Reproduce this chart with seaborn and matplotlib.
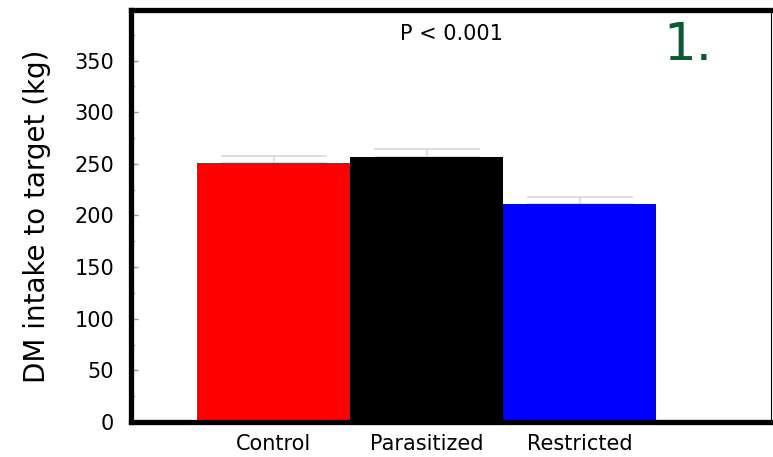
import matplotlib
matplotlib.use("Agg")
import matplotlib.pyplot as plt
from matplotlib.ticker import MultipleLocator
import seaborn as sns
import pandas as pd

groups = ["Control", "Parasitized", "Restricted"]
intake = [251, 257, 211]
sem = [7, 7, 7]
bar_colors = ["#ff0000", "#000000", "#0000ff"]

sns.set_theme(style="white")
plt.rcParams["font.family"] = ["DejaVu Sans"]
plt.rcParams["text.color"] = "black"
plt.rcParams["axes.labelcolor"] = "black"
plt.rcParams["xtick.color"] = "black"
plt.rcParams["ytick.color"] = "black"

df = pd.DataFrame({"group": groups, "intake": intake})

fig = plt.figure(figsize=(7.73, 4.57), dpi=100)
ax = fig.add_axes([0.1695, 0.0766, 0.828, 0.9015])

sns.barplot(data=df, x="group", y="intake", hue="group", palette=bar_colors,
            width=1.0, errorbar=None, legend=False, ax=ax, linewidth=0,
            saturation=1, zorder=2)

# upward-only error bars
ax.errorbar(range(len(groups)), intake, yerr=[[0] * len(groups), sem],
            fmt="none", ecolor="#d8d8d8", elinewidth=1.2, capsize=38,
            capthick=1.2, zorder=1)

ax.set_xlim(-0.931, 3.25)
ax.set_ylim(0, 399)
ax.set_yticks(range(0, 400, 50))
ax.yaxis.set_minor_locator(MultipleLocator(25))
ax.tick_params(axis="y", which="major", direction="in", length=5, width=1,
               color="#999999", labelcolor="black", labelsize=15, pad=12,
               left=True)
ax.tick_params(axis="y", which="minor", direction="in", length=3, width=1,
               color="#bbbbbb", left=True)
ax.tick_params(axis="x", length=0, labelsize=15, labelcolor="black", pad=9)

ax.set_xlabel("")
ax.set_ylabel("DM intake to target (kg)", fontsize=20, labelpad=17,
              color="black")

for side in ["left", "top", "bottom"]:
    ax.spines[side].set_linewidth(3.8)
    ax.spines[side].set_color("black")
ax.spines["right"].set_linewidth(0.8)
ax.spines["right"].set_color("black")

ax.text(0.5, 0.942, "P < 0.001", transform=ax.transAxes, ha="center",
        va="center", fontsize=15, color="black")
ax.text(0.870, 0.913, "1.", transform=ax.transAxes, ha="center",
        va="center", fontsize=37, color="#0b5a30")

fig.savefig("out.png", dpi=100)
